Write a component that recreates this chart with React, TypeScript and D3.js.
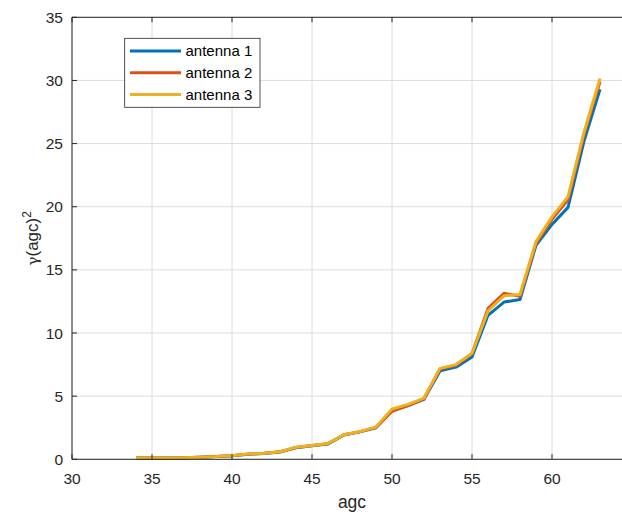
import React from "react";
import * as d3 from "d3";

const agc = [34, 35, 36, 37, 38, 39, 40, 41, 42, 43, 44, 45, 46, 47, 48, 49, 50, 51, 52, 53, 54, 55, 56, 57, 58, 59, 60, 61, 62, 63];
const antenna1 = [0.1, 0.1, 0.1, 0.12, 0.17, 0.22, 0.28, 0.4, 0.46, 0.58, 0.92, 1.08, 1.22, 1.92, 2.17, 2.5, 3.85, 4.25, 4.75, 7.0, 7.3, 8.1, 11.4, 12.45, 12.65, 16.95, 18.6, 19.95, 25.2, 29.3];
const antenna2 = [0.1, 0.1, 0.1, 0.12, 0.17, 0.22, 0.29, 0.41, 0.47, 0.59, 0.94, 1.09, 1.24, 1.94, 2.19, 2.53, 3.8, 4.25, 4.8, 7.15, 7.45, 8.35, 11.95, 13.15, 12.9, 17.1, 19.0, 20.55, 25.7, 29.9];
const antenna3 = [0.1, 0.1, 0.1, 0.12, 0.17, 0.22, 0.3, 0.42, 0.48, 0.6, 0.95, 1.1, 1.25, 1.95, 2.2, 2.55, 3.98, 4.35, 4.85, 7.2, 7.5, 8.4, 11.75, 12.95, 13.05, 17.25, 19.2, 20.8, 25.9, 30.15];
const seriesNames = ["antenna 1", "antenna 2", "antenna 3"];
const seriesColors = ["#0072BD", "#D95319", "#EDB120"];
const xTicks = [30, 35, 40, 45, 50, 55, 60, 65];
const xTickLabels = ["30", "35", "40", "45", "50", "55", "60", ""];
const yTicks = [0, 5, 10, 15, 20, 25, 30, 35];

const W = 622;
const H = 512;
const left = 72;
const right = 632;
const top = 17.3;
const bottom = 459.3;
const axisColor = "#262626";
const font = "'Liberation Sans', Arial, Helvetica, sans-serif";

export default function App() {
  const x = d3.scaleLinear().domain([30, 65]).range([left, right]);
  const y = d3.scaleLinear().domain([0, 35]).range([bottom, top]);
  const series = [antenna1, antenna2, antenna3];
  const line = d3
    .line<[number, number]>()
    .x((d) => x(d[0]))
    .y((d) => y(d[1]));

  return (
    <svg
      width={W}
      height={H}
      style={{ position: "absolute", left: 0, top: 0, background: "#fff" }}
      fontFamily={font}
    >
      <rect x={0} y={0} width={W} height={H} fill="#fff" />
      {/* grid */}
      {xTicks.map((t) => (
        <line key={"gx" + t} x1={x(t)} x2={x(t)} y1={top} y2={bottom} stroke="#dcdcdc" strokeWidth={1} />
      ))}
      {yTicks.map((t) => (
        <line key={"gy" + t} x1={left} x2={right} y1={y(t)} y2={y(t)} stroke="#dcdcdc" strokeWidth={1} />
      ))}
      {/* series */}
      {series.map((s, i) => (
        <path
          key={"s" + i}
          d={line(agc.map((a, j) => [a, s[j]] as [number, number])) || ""}
          fill="none"
          stroke={seriesColors[i]}
          strokeWidth={3}
          strokeLinejoin="round"
        />
      ))}
      {/* axes box */}
      <line x1={left} x2={right} y1={bottom} y2={bottom} stroke={axisColor} strokeWidth={1} />
      <line x1={left} x2={right} y1={top} y2={top} stroke={axisColor} strokeWidth={1} />
      <line x1={left} x2={left} y1={top} y2={bottom} stroke={axisColor} strokeWidth={1} />
      <line x1={right} x2={right} y1={top} y2={bottom} stroke={axisColor} strokeWidth={1} />
      {/* ticks */}
      {xTicks.map((t, i) => (
        <g key={"tx" + t}>
          <line x1={x(t)} x2={x(t)} y1={bottom} y2={bottom - 5} stroke={axisColor} />
          <line x1={x(t)} x2={x(t)} y1={top} y2={top + 5} stroke={axisColor} />
          {xTickLabels[i] ? (
            <text x={x(t)} y={bottom + 24.5} textAnchor="middle" fontSize={15.5} fill={axisColor}>
              {xTickLabels[i]}
            </text>
          ) : null}
        </g>
      ))}
      {yTicks.map((t) => (
        <g key={"ty" + t}>
          <line x1={left} x2={left + 5} y1={y(t)} y2={y(t)} stroke={axisColor} />
          <line x1={right} x2={right - 5} y1={y(t)} y2={y(t)} stroke={axisColor} />
          <text x={left - 9} y={y(t) + 5.5} textAnchor="end" fontSize={15.5} fill={axisColor}>
            {t}
          </text>
        </g>
      ))}
      {/* axis labels */}
      <text x={(left + right) / 2} y={507.5} textAnchor="middle" fontSize={17.5} fill={axisColor}>
        agc
      </text>
      <text
        transform={`translate(37.5, ${(top + bottom) / 2}) rotate(-90)`}
        textAnchor="middle"
        fontSize={17}
        fill={axisColor}
      >
        <tspan fontFamily="'DejaVu Serif', serif" fontSize={15}>γ</tspan>
        <tspan>(agc)</tspan>
        <tspan dy={-7} fontSize={12}>2</tspan>
      </text>
      {/* legend */}
      <rect x={124.7} y={38.3} width={135.3} height={69} fill="#fff" stroke={axisColor} strokeWidth={0.8} />
      {seriesNames.map((n, i) => {
        const ly = 51 + i * 21.7;
        return (
          <g key={"lg" + i}>
            <line x1={130} x2={181} y1={ly} y2={ly} stroke={seriesColors[i]} strokeWidth={3} />
            <text x={185.5} y={ly + 5.3} fontSize={15} fill="#000">
              {n}
            </text>
          </g>
        );
      })}
    </svg>
  );
}
